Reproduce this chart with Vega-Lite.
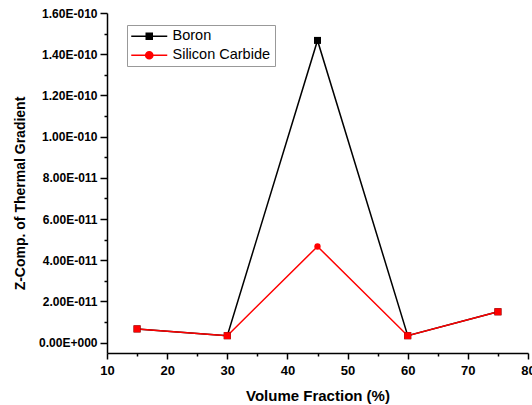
{
  "$schema": "https://vega.github.io/schema/vega-lite/v6.json",
  "width": 421,
  "height": 340,
  "autosize": {"type": "none"},
  "padding": {"left": 107, "top": 13, "right": 4, "bottom": 52},
  "background": "white",
  "config": {"view": {"stroke": null}, "font": "Liberation Sans"},
  "data": {
    "values": [
      {"fraction": 15, "series": "Boron", "gradient": 6.7e-12},
      {"fraction": 30, "series": "Boron", "gradient": 3.4e-12},
      {"fraction": 45, "series": "Boron", "gradient": 1.467e-10},
      {"fraction": 60, "series": "Boron", "gradient": 3.4e-12},
      {"fraction": 75, "series": "Boron", "gradient": 1.5e-11},
      {"fraction": 15, "series": "Silicon Carbide", "gradient": 6.7e-12},
      {"fraction": 30, "series": "Silicon Carbide", "gradient": 3.4e-12},
      {"fraction": 45, "series": "Silicon Carbide", "gradient": 4.67e-11},
      {"fraction": 60, "series": "Silicon Carbide", "gradient": 3.4e-12},
      {"fraction": 75, "series": "Silicon Carbide", "gradient": 1.5e-11}
    ]
  },
  "encoding": {
    "x": {
      "field": "fraction",
      "type": "quantitative",
      "scale": {"domain": [10, 80], "nice": false, "zero": false},
      "axis": {
        "title": "Volume Fraction (%)",
        "titleFontSize": 15,
        "titleFontWeight": "bold",
        "titleColor": "black",
        "titlePadding": 11,
        "values": [10, 15, 20, 25, 30, 35, 40, 45, 50, 55, 60, 65, 70, 75, 80],
        "labelExpr": "datum.value % 10 == 0 ? datum.label : ''",
        "labelFontSize": 13,
        "labelFontWeight": "bold",
        "labelColor": "black",
        "labelPadding": 5,
        "labelFlush": false,
        "labelOverlap": false,
        "grid": false,
        "domainColor": "black",
        "domainWidth": 1.5,
        "tickColor": "black",
        "tickWidth": 1.5,
        "tickSize": {"condition": {"test": "datum.value % 10 == 0", "value": 6}, "value": 3}
      }
    },
    "y": {
      "field": "gradient",
      "type": "quantitative",
      "scale": {"domain": [-5e-12, 1.6e-10], "nice": false, "zero": false},
      "axis": {
        "title": "Z-Comp. of Thermal Gradient",
        "titleFontSize": 14,
        "titleFontWeight": "bold",
        "titleColor": "black",
        "titlePadding": 11,
        "titleY": 180,
        "values": [0, 1e-11, 2e-11, 3e-11, 4e-11, 5e-11, 6e-11, 7e-11, 8e-11, 9e-11, 1e-10, 1.1e-10, 1.2e-10, 1.3e-10, 1.4e-10, 1.5e-10, 1.6e-10],
        "labelExpr": "datum.value == 0 ? '0.00E+000' : (round(datum.value*1e11) % 2 != 0 ? '' : format(datum.value / pow(10, floor(log(datum.value)/LN10 + 1e-9)), '.2f') + 'E-0' + (-floor(log(datum.value)/LN10 + 1e-9)))",
        "labelFontSize": 12,
        "labelFontWeight": "bold",
        "labelColor": "black",
        "labelPadding": 3,
        "labelOverlap": false,
        "labelFlush": false,
        "grid": false,
        "domainColor": "black",
        "domainWidth": 1.5,
        "tickColor": "black",
        "tickWidth": 1.5,
        "tickSize": {"condition": {"test": "round(datum.value*1e11) % 2 == 0", "value": 7}, "value": 3}
      }
    }
  },
  "layer": [
    {
      "mark": {"type": "line", "strokeWidth": 1.5},
      "encoding": {
        "color": {
          "field": "series",
          "type": "nominal",
          "scale": {"domain": ["Boron", "Silicon Carbide"], "range": ["black", "red"]},
          "legend": {
            "title": null,
            "orient": "none",
            "legendX": 20,
            "legendY": 12,
            "strokeColor": "#999999",
            "fillColor": "white",
            "padding": 4,
            "labelFontSize": 14.5,
            "labelColor": "black",
            "labelOffset": 16,
            "rowPadding": 4,
            "symbolSize": 100,
            "symbolOffset": 11,
            "symbolStrokeWidth": 1.5,
            "encode": {
              "symbols": {
                "update": {
                  "shape": {"signal": "datum.value == 'Boron' ? 'M-3.6,0H3.6M-0.6,-0.6H0.6V0.6H-0.6Z' : 'M-3.6,0H3.6M0.72,0A0.72,0.72 0 1 1 -0.72,0A0.72,0.72 0 1 1 0.72,0Z'"},
                  "fill": {"signal": "datum.value == 'Boron' ? 'black' : 'red'"},
                  "stroke": {"signal": "datum.value == 'Boron' ? 'black' : 'red'"},
                  "size": {"value": 100},
                  "strokeWidth": {"value": 1.5}
                }
              }
            }
          }
        }
      }
    },
    {
      "transform": [{"filter": "datum.series == 'Boron'"}],
      "mark": {"type": "point", "shape": "square", "filled": true, "color": "black", "size": 49, "opacity": 1}
    },
    {
      "transform": [{"filter": "datum.series == 'Silicon Carbide' && datum.fraction != 45"}],
      "mark": {"type": "point", "shape": "square", "filled": true, "color": "red", "size": 49, "opacity": 1}
    },
    {
      "transform": [{"filter": "datum.series == 'Silicon Carbide' && datum.fraction == 45"}],
      "mark": {"type": "point", "shape": "circle", "filled": true, "color": "red", "size": 40, "opacity": 1}
    }
  ]
}
